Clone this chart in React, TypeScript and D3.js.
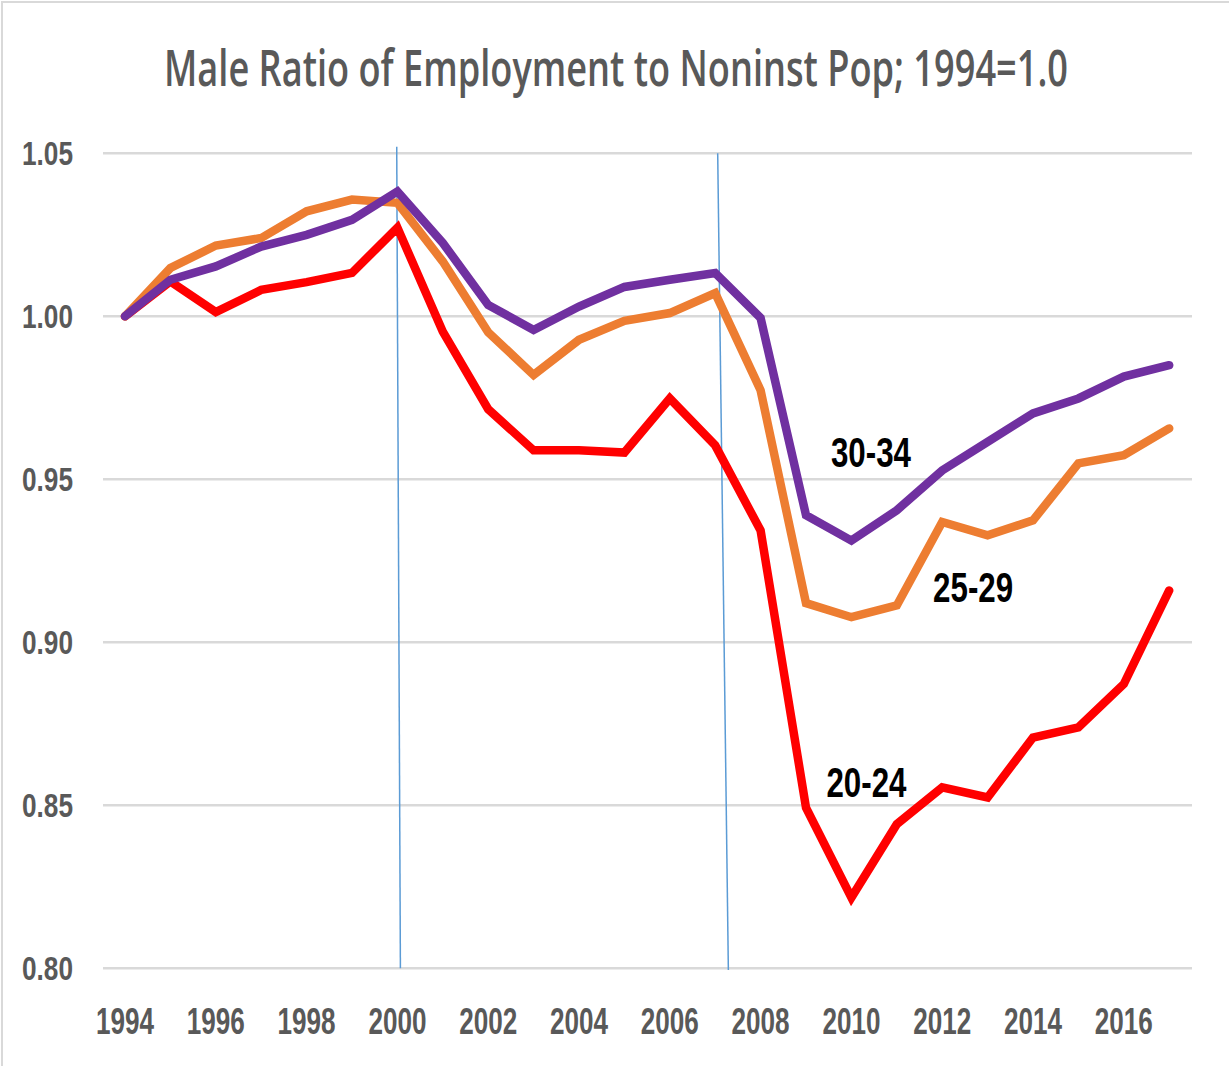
import React from "react";
import * as d3 from "d3";

const years = d3.range(1994, 2018);
const age2024 = [1.0, 1.0107, 1.0013, 1.0081, 1.0105, 1.0133, 1.0272, 0.9953, 0.9715, 0.9589, 0.9589, 0.9582, 0.9748, 0.9604, 0.9343, 0.8493, 0.8217, 0.8442, 0.8555, 0.8524, 0.8708, 0.8739, 0.8872, 0.9159];
const age2529 = [1.0, 1.0148, 1.0217, 1.024, 1.0322, 1.0358, 1.0348, 1.0168, 0.9951, 0.982, 0.9928, 0.9986, 1.001, 1.0071, 0.9773, 0.912, 0.9077, 0.9113, 0.9369, 0.9328, 0.9374, 0.9549, 0.9574, 0.9656];
const age3034 = [1.0, 1.0112, 1.0153, 1.0214, 1.025, 1.0296, 1.0383, 1.0225, 1.0035, 0.9958, 1.003, 1.009, 1.0112, 1.0133, 0.9995, 0.939, 0.9312, 0.9405, 0.9527, 0.9615, 0.9702, 0.9748, 0.9815, 0.985];
const seriesNames = ["20-24", "25-29", "30-34"];
const seriesColors = ["#ff0000", "#ed7d31", "#7030a0"];
const yTicks = [0.8, 0.85, 0.9, 0.95, 1.0, 1.05];
const xTicks = d3.range(1994, 2017, 2);
// annotation lines (year, value) start and end
const vLines = [
  { x1: 1999.985, y1: 1.052, x2: 2000.066, y2: 0.8 },
  { x1: 2007.055, y1: 1.05, x2: 2007.29, y2: 0.7995 },
];
// label anchors in data coords
const labels = [
  { name: "30-34", x: 2009.55, y: 0.9538 },
  { name: "25-29", x: 2011.8, y: 0.9125 },
  { name: "20-24", x: 2009.45, y: 0.8525 },
];

const FONT = "'Liberation Sans Narrow', 'Liberation Sans', Arial, sans-serif";
const TITLE_FONT = "'Open Sans', 'Liberation Sans', Arial, sans-serif";

export default function App() {
  const W = 1229, H = 1066;
  const x = d3.scaleLinear().domain([1994, 2017]).range([125, 125 + 23 * 45.4]);
  const y = d3.scaleLinear().domain([0.8, 1.05]).range([968.3, 153.3]);
  const line = d3.line<number>().x((_, i) => x(years[i])).y((d) => y(d));
  const data = [age2024, age2529, age3034];
  const titleScaleX = 0.7;

  return (
    <svg width={W} height={H} style={{ position: "absolute", left: 0, top: 0, background: "#fff" }} fontFamily={FONT}>
      <rect x={0} y={0} width={W} height={H} fill="#fff" />
      <rect x={2} y={2} width={W + 10} height={H + 10} fill="none" stroke="#d9d9d9" strokeWidth={2} />
      <g transform={`translate(616,86) scale(${titleScaleX},1)`}>
        <text x={0} y={0} textAnchor="middle" fontSize={50} fontWeight={600} fill="#595959" fontFamily={TITLE_FONT} textLength={904 / titleScaleX} lengthAdjust="spacingAndGlyphs">
          Male Ratio of Employment to Noninst Pop; 1994=1.0
        </text>
      </g>
      {yTicks.map((t) => (
        <g key={t}>
          <line x1={103} x2={1192} y1={y(t)} y2={y(t)} stroke="#d9d9d9" strokeWidth={2.5} />
          <text x={73} y={y(t) + 12} textAnchor="end" fontSize={34} fontWeight="bold" fill="#595959" textLength={51} lengthAdjust="spacingAndGlyphs">
            {t.toFixed(2)}
          </text>
        </g>
      ))}
      {xTicks.map((t) => (
        <text key={t} x={x(t)} y={1034} textAnchor="middle" fontSize={36} fontWeight="bold" fill="#595959" textLength={58} lengthAdjust="spacingAndGlyphs">
          {t}
        </text>
      ))}
      {vLines.map((v, i) => (
        <line key={i} x1={x(v.x1)} y1={y(v.y1)} x2={x(v.x2)} y2={y(v.y2)} stroke="#5b9bd5" strokeWidth={1.5} />
      ))}
      {data.map((d, i) => (
        <path key={seriesNames[i]} d={line(d) || ""} fill="none" stroke={seriesColors[i]} strokeWidth={8.5} strokeLinejoin="miter" strokeLinecap="round" />
      ))}
      {labels.map((l) => (
        <text key={l.name} x={x(l.x)} y={y(l.y)} fontSize={42} fontWeight="bold" fill="#000" textLength={80} lengthAdjust="spacingAndGlyphs">
          {l.name}
        </text>
      ))}
    </svg>
  );
}
